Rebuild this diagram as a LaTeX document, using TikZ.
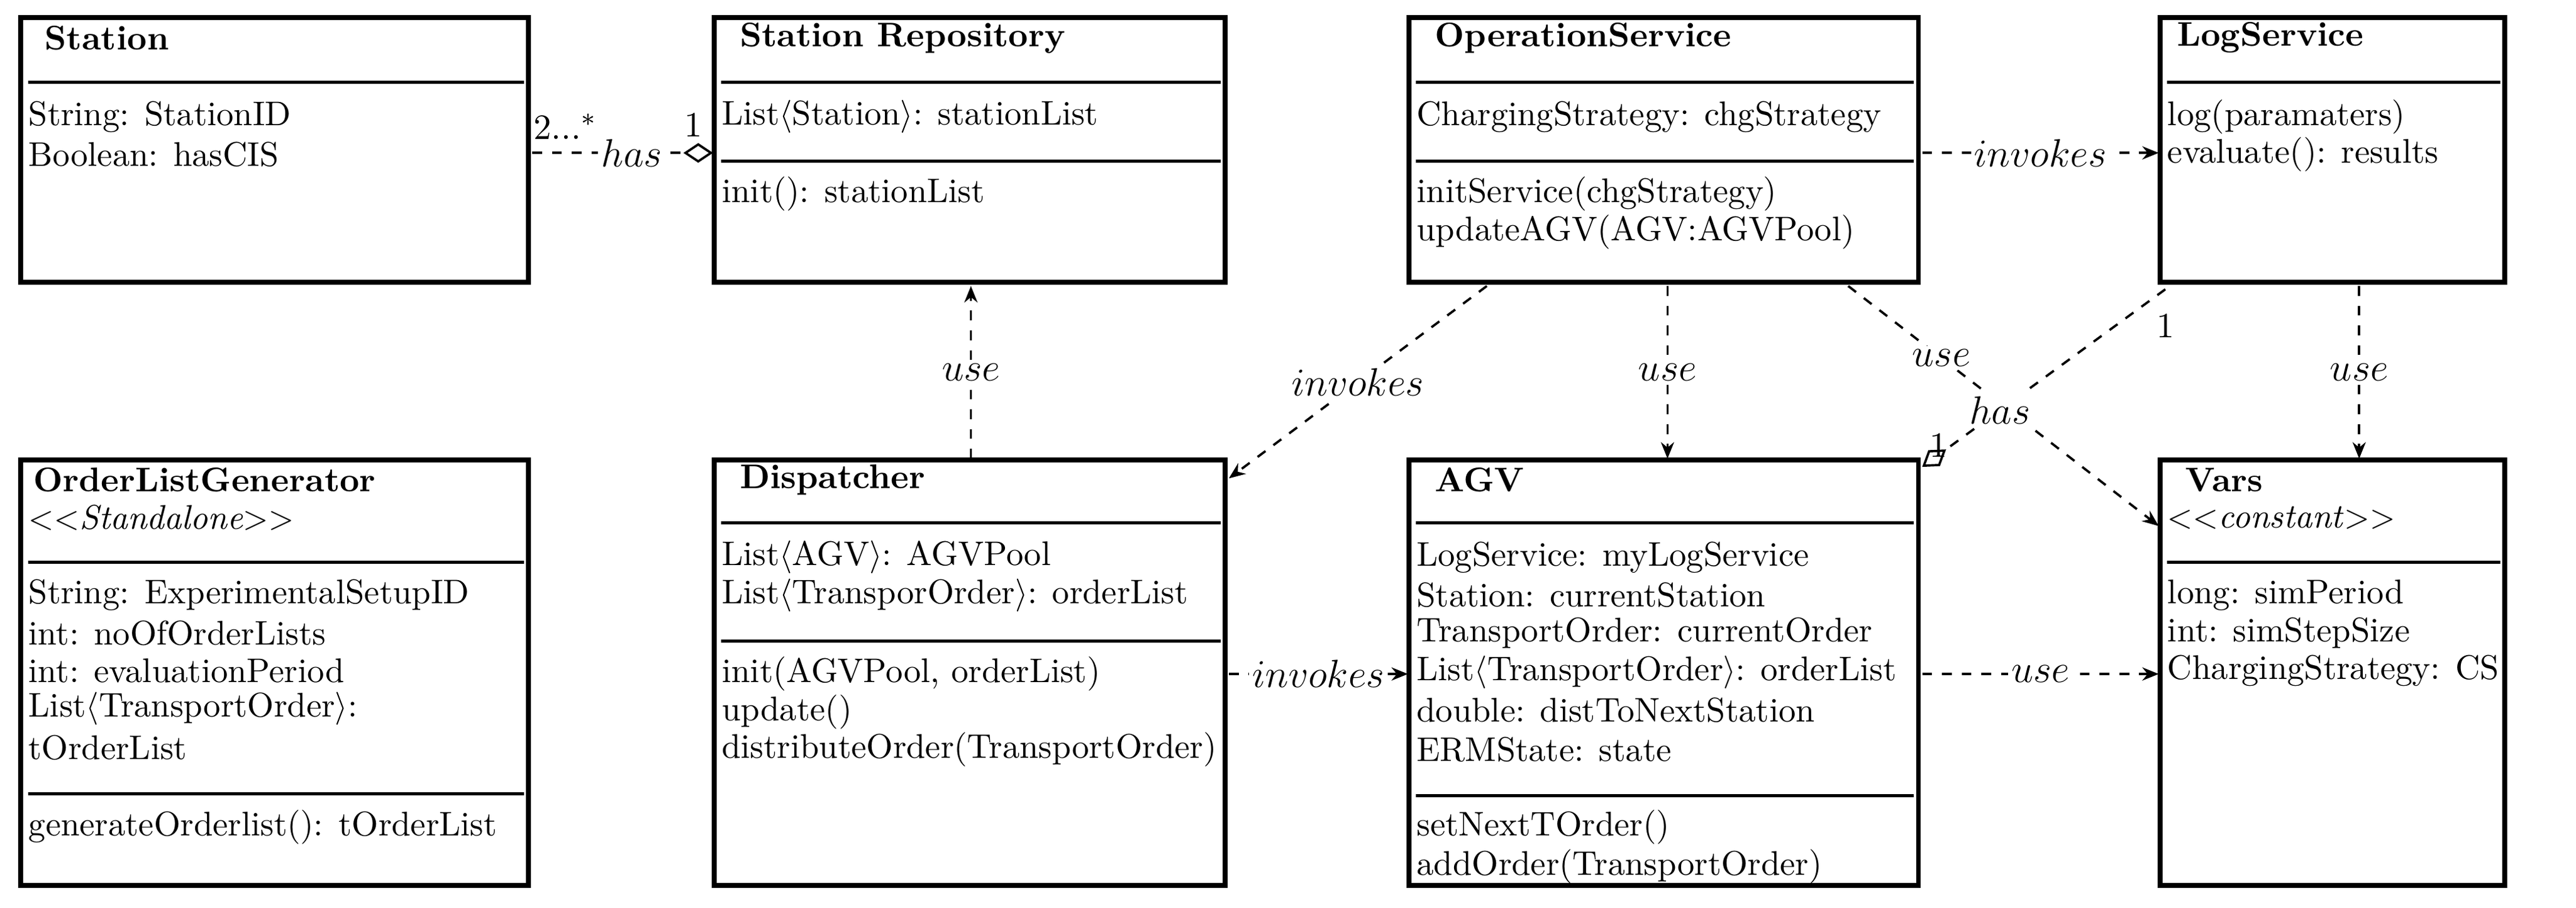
\documentclass[tikz,border=0pt]{standalone}
\usetikzlibrary{arrows.meta}
\begin{document}
\begin{tikzpicture}[x=0.5pt,y=-0.5pt,
  box/.style={draw,line width=1.5pt,anchor=north west,inner sep=0pt,outer sep=0pt},
  sep/.style={line width=1pt},
  t/.style={anchor=west,inner sep=0pt,font=\fontsize{10.4}{12}\selectfont},
  lab/.style={fill=white,inner sep=1pt,font=\fontsize{11.5}{12}\selectfont},
  ml/.style={font=\fontsize{10.8}{12}\selectfont,inner sep=0pt},
  dep/.style={dashed,line width=0.7pt,-{Stealth[length=5pt,width=4pt]}},
  agg/.style={dashed,line width=0.7pt,-{Diamond[open,length=9pt,width=6pt,line width=0.7pt]}}]
\useasboundingbox (0,0) rectangle (1568,552);
% boxes
\node[box,minimum width=154.5pt,minimum height=80.5pt] (st) at (12.7,10.7) {};
\node[box,minimum width=155.5pt,minimum height=80.5pt] (sr) at (434.7,10.7) {};
\node[box,minimum width=155pt,minimum height=80.5pt] (os) at (857.7,10.7) {};
\node[box,minimum width=105pt,minimum height=80.5pt] (ls) at (1314.7,10.7) {};
\node[box,minimum width=154.5pt,minimum height=129.5pt] (og) at (12.7,279.7) {};
\node[box,minimum width=155.5pt,minimum height=129.5pt] (di) at (434.7,279.7) {};
\node[box,minimum width=155pt,minimum height=129.5pt] (agv) at (857.7,279.7) {};
\node[box,minimum width=105pt,minimum height=129.5pt] (va) at (1314.7,279.7) {};
% Station
\node[t] at (27,23) {\textbf{Station}};
\draw[sep] (17,50) -- (319,50);
\node[t] at (17,71) {String: StationID};
\node[t] at (17,94) {Boolean: hasCIS};
% Station Repository
\node[t] at (450,23) {\textbf{Station Repository}};
\draw[sep] (439,50) -- (743,50);
\node[t] at (439,71) {List$\langle$Station$\rangle$: stationList};
\draw[sep] (439,98) -- (743,98);
\node[t] at (439,118) {init(): stationList};
% OperationService
\node[t] at (873,23) {\textbf{OperationService}};
\draw[sep] (862,50) -- (1165,50);
\node[t] at (862,71) {ChargingStrategy: chgStrategy};
\draw[sep] (862,98) -- (1165,98);
\node[t] at (862,118) {initService(chgStrategy)};
\node[t] at (862,141) {updateAGV(AGV:AGVPool)};
% LogService
\node[t] at (1325,23) {\textbf{LogService}};
\draw[sep] (1319,50) -- (1522,50);
\node[t] at (1319,71) {log(paramaters)};
\node[t] at (1319,94) {evaluate(): results};
% OrderListGenerator
\node[t] at (20,292) {\textbf{OrderListGenerator}};
\node[t] at (17,315) {$<<$\textit{Standalone}$>>$};
\draw[sep] (17,342) -- (319,342);
\node[t] at (17,362) {String: ExperimentalSetupID};
\node[t] at (17,385) {int: noOfOrderLists};
\node[t] at (17,408) {int: evaluationPeriod};
\node[t] at (17,431) {List$\langle$TransportOrder$\rangle$:};
\node[t] at (17,455) {tOrderList};
\draw[sep] (17,483) -- (319,483);
\node[t] at (17,503) {generateOrderlist(): tOrderList};
% Dispatcher
\node[t] at (450,292) {\textbf{Dispatcher}};
\draw[sep] (439,318) -- (743,318);
\node[t] at (439,339) {List$\langle$AGV$\rangle$: AGVPool};
\node[t] at (439,362) {List$\langle$TransporOrder$\rangle$: orderList};
\draw[sep] (439,390) -- (743,390);
\node[t] at (439,410) {init(AGVPool, orderList)};
\node[t] at (439,433) {update()};
\node[t] at (439,456) {distributeOrder(TransportOrder)};
% AGV
\node[t] at (873,292) {\textbf{AGV}};
\draw[sep] (862,318) -- (1165,318);
\node[t] at (862,339) {LogService: myLogService};
\node[t] at (862,362) {Station: currentStation};
\node[t] at (862,385) {TransportOrder: currentOrder};
\node[t] at (862,409) {List$\langle$TransportOrder$\rangle$: orderList};
\node[t] at (862,432) {double: distToNextStation};
\node[t] at (862,456) {ERMState: state};
\draw[sep] (862,484) -- (1165,484);
\node[t] at (862,503) {setNextTOrder()};
\node[t] at (862,527) {addOrder(TransportOrder)};
% Vars
\node[t] at (1330,292) {\textbf{Vars}};
\node[t] at (1319,315) {$<<$\textit{constant}$>>$};
\draw[sep] (1319,342) -- (1522,342);
\node[t] at (1319,362) {long: simPeriod};
\node[t] at (1319,385) {int: simStepSize};
\node[t] at (1319,408) {ChargingStrategy: CS};
% connectors
\coordinate (a1) at (324,93); \coordinate (a2) at (434,93);
\draw[agg] (a1) -- node[lab,pos=0.55]{$has$} (a2);
\node[ml] at (344,77) {2...$^*$};
\node[ml] at (422,76) {1};
\coordinate (b1) at (591,279); \coordinate (b2) at (591,174);
\draw[dep] (b1) -- node[lab,pos=0.5]{$use$} (b2);
\coordinate (c1) at (905,174); \coordinate (c2) at (748,291);
\draw[dep] (c1) -- node[lab,pos=0.5]{$invokes$} (c2);
\coordinate (d1) at (1015,174); \coordinate (d2) at (1015,279);
\draw[dep] (d1) -- node[lab]{$use$} (d2);
\coordinate (e1) at (1125,174); \coordinate (e2) at (1314,320);
\draw[dep] (e1) -- node[lab,pos=0.3]{$use$} (e2);
\coordinate (f1) at (1318,176); \coordinate (f2) at (1170,284);
\draw[agg] (f1) -- node[lab,pos=0.68]{$has$} (f2);
\node[ml] at (1318,198) {1};
\node[ml] at (1180,271) {1};
\coordinate (g1) at (1170,93); \coordinate (g2) at (1314,93);
\draw[dep] (g1) -- node[lab]{$invokes$} (g2);
\coordinate (h1) at (1436,174); \coordinate (h2) at (1436,279);
\draw[dep] (h1) -- node[lab]{$use$} (h2);
\coordinate (i1) at (748,410); \coordinate (i2) at (857,410);
\draw[dep] (i1) -- node[lab]{$invokes$} (i2);
\coordinate (j1) at (1170,410); \coordinate (j2) at (1314,410);
\draw[dep] (j1) -- node[lab]{$use$} (j2);
\end{tikzpicture}
\end{document}
